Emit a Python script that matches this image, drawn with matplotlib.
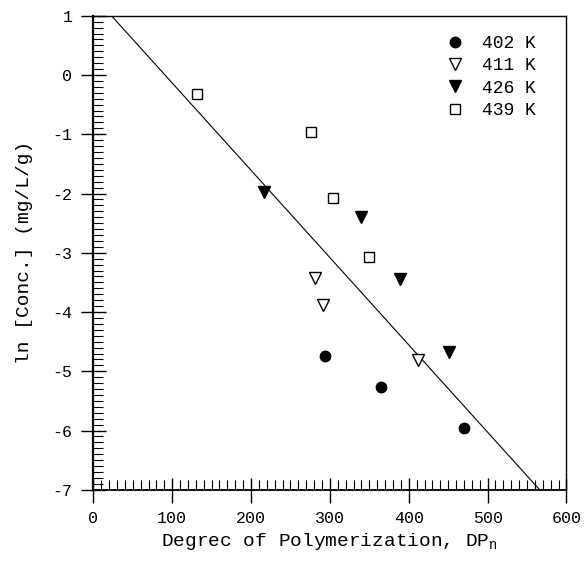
import matplotlib.pyplot as plt
from matplotlib.ticker import MultipleLocator

plt.rcParams['font.family'] = ['Liberation Mono', 'DejaVu Sans Mono']
plt.rcParams['axes.unicode_minus'] = False

# 402 K
dp_402 = [294, 365, 470]
lnc_402 = [-4.75, -5.26, -5.96]
# 411 K
dp_411 = [281, 291, 412]
lnc_411 = [-3.42, -3.88, -4.81]
# 426 K
dp_426 = [216, 339, 389, 451]
lnc_426 = [-1.98, -2.40, -3.45, -4.67]
# 439 K
dp_439 = [131, 276, 304, 349]
lnc_439 = [-0.32, -0.97, -2.08, -3.07]

# fitted line
fit_dp = [23, 566]
fit_lnc = [1.0, -7.0]

fig = plt.figure(figsize=(5.87, 5.63), dpi=100)
ax = fig.add_axes([0.159, 0.13, 0.806, 0.842])

ax.plot(fit_dp, fit_lnc, color='black', lw=0.8)
ax.plot(dp_402, lnc_402, 'o', color='black', ms=7.5, ls='none', label='402 K')
ax.plot(dp_411, lnc_411, 'v', mfc='white', mec='black', mew=1.0, ms=8, ls='none', label='411 K')
ax.plot(dp_426, lnc_426, 'v', color='black', ms=8, ls='none', label='426 K')
ax.plot(dp_439, lnc_439, 's', mfc='white', mec='black', mew=1.0, ms=6.5, ls='none', label='439 K')

ax.set_xlim(0, 600)
ax.set_ylim(-7, 1)
ax.xaxis.set_major_locator(MultipleLocator(100))
ax.xaxis.set_minor_locator(MultipleLocator(10))
ax.yaxis.set_major_locator(MultipleLocator(1))
ax.yaxis.set_minor_locator(MultipleLocator(0.1))
ax.tick_params(which='major', direction='inout', length=18, width=1.0, labelsize=12, pad=6)
ax.tick_params(which='minor', direction='in', length=7, width=0.8)
ax.tick_params(top=False, right=False)
for s in ax.spines.values():
    s.set_linewidth(1.0)
ax.spines['left'].set_linewidth(1.6)
ax.spines['bottom'].set_linewidth(1.3)

ax.set_xlabel('Degrec of Polymerization, DP$_\\mathregular{n}$', fontsize=14, labelpad=4)
ax.set_ylabel('ln [Conc.] (mg/L/g)', fontsize=14, labelpad=14)

ax.legend(loc='upper right', bbox_to_anchor=(0.95, 0.975), frameon=False,
          fontsize=13, handlelength=0.8, handletextpad=1.1, labelspacing=0.3,
          borderaxespad=0)

fig.savefig('out.png', dpi=100)
